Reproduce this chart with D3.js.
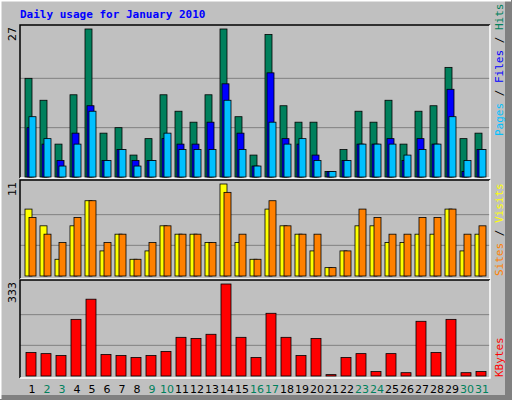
<!DOCTYPE html>
<html><head><meta charset="utf-8">
<script src="https://d3js.org/d3.v7.min.js"></script>
<style>body{margin:0;background:#fff}</style>
</head><body><div id="chart"></div>
<script>
// daily values
var days = d3.range(1, 32)
var weekend = [2, 3, 9, 10, 16, 17, 23, 24, 30, 31]
var hits  = [18,14,6,15,27,8,9,4,7,15,12,10,15,27,11,4,26,13,10,10,1,5,12,10,14,6,12,13,20,7,8]
var files = [9,6,3,8,13,3,5,3,3,7,6,6,10,17,8,2,19,7,6,4,1,3,6,6,7,3,7,6,16,1,5]
var pages = [11,7,2,6,12,3,5,2,3,8,5,5,5,14,5,2,10,6,7,3,1,3,6,6,6,4,5,6,11,3,5]
var sites  = [8,6,2,6,9,3,5,2,3,6,5,5,4,11,4,2,8,6,5,3,1,3,6,6,4,4,5,5,8,3,5]
var visits = [7,5,4,7,9,4,5,2,4,6,5,5,4,10,5,2,9,6,5,5,1,3,8,7,5,5,7,7,8,5,6]
var kbytes = [85,81,74,205,278,78,74,67,74,89,140,136,151,333,140,67,227,140,74,136,5,67,81,16,81,12,198,85,205,12,16]

var width = 512
var height = 400
var left = 20, right = 490

var svg = d3.select('#chart').append('svg')
    .attr('width', width).attr('height', height)
    .style('font-family', 'DejaVu Sans')

// outer frame
svg.append('rect').attr('width', width).attr('height', height).attr('fill', '#c0c0c0')
svg.append('rect').attr('x', 505).attr('y', 0).attr('width', 7).attr('height', height).attr('fill', '#808080')
svg.append('rect').attr('x', 0).attr('y', 395).attr('width', width).attr('height', 5).attr('fill', '#808080')
svg.append('path').attr('d', 'M0.5,399V0.5H511').attr('stroke', '#fff').attr('fill', 'none').attr('stroke-width', 2)

svg.append('text').attr('x', 20).attr('y', 18)
    .attr('font-family', 'DejaVu Sans Mono').attr('font-weight', 'bold').attr('font-size', 11)
    .attr('fill', '#0000ff').text('Daily usage for January 2010')

var x = d3.scaleBand().domain(days).range([22, 487])

function panel(top, bottom, base, peak, max) {
    svg.append('rect').attr('x', left).attr('y', top).attr('width', right - left).attr('height', bottom - top)
        .attr('fill', '#c0c0c0')
    var y = d3.scaleLinear().domain([0, max]).range([base, peak])
    ;[max / 3, max * 2 / 3].forEach(function (v) {
        svg.append('line').attr('x1', left).attr('x2', right).attr('y1', y(v)).attr('y2', y(v))
            .attr('stroke', '#808080').attr('stroke-width', 1)
    })
    svg.append('path').attr('d', 'M' + left + ',' + bottom + 'V' + top + 'H' + right)
        .attr('stroke', '#000').attr('fill', 'none').attr('stroke-width', 1.5)
    svg.append('path').attr('d', 'M' + left + ',' + bottom + 'H' + right + 'V' + top)
        .attr('stroke', '#fff').attr('fill', 'none').attr('stroke-width', 1.5)
    svg.append('text').attr('transform', 'translate(16,' + (top + 2) + ')rotate(-90)')
        .attr('text-anchor', 'end').attr('font-size', 11).text(max)
    return y
}

function bars(data, y, off, w, color) {
    svg.selectAll(null).data(data).enter().append('rect')
        .attr('x', (d, i) => x(days[i]) + off)
        .attr('y', (d) => y(d))
        .attr('width', w)
        .attr('height', (d) => y(0) - y(d))
        .attr('fill', color).attr('stroke', '#000').attr('stroke-width', 0.8)
}

var y1 = panel(25, 178, 177, 29, 27)
bars(hits, y1, 3, 7, '#00805c')
bars(files, y1, 5, 7, '#0000ff')
bars(pages, y1, 7, 7, '#00c0ff')

var y2 = panel(180, 279, 276, 184, 11)
bars(sites, y2, 3, 7, '#ffff00')
bars(visits, y2, 7, 7, '#ff8000')

var y3 = panel(280, 378, 376, 284, 333)
bars(kbytes, y3, 4, 10, '#ff0000')

// day labels
svg.selectAll(null).data(days).enter().append('text')
    .attr('x', (d) => x(d) + 10).attr('y', 393)
    .attr('text-anchor', 'middle').attr('font-size', 11)
    .attr('fill', (d) => weekend.includes(d) ? '#00805c' : '#000')
    .text((d) => d)

// right-side legends
function legend(bottomY, parts) {
    var t = svg.append('text').attr('transform', 'translate(503,' + bottomY + ')rotate(-90)')
        .attr('font-family', 'DejaVu Sans Mono').attr('font-size', 11)
    parts.forEach(function (p) { t.append('tspan').attr('fill', p[1]).text(p[0]) })
}
legend(136, [['Pages', '#00c0ff'], [' / ', '#000'], ['Files', '#0000ff'], [' / ', '#000'], ['Hits', '#00805c']])
legend(276, [['Sites', '#ff8000'], [' / ', '#000'], ['Visits', '#ffff00']])
legend(377, [['KBytes', '#ff0000']])
</script></body></html>
